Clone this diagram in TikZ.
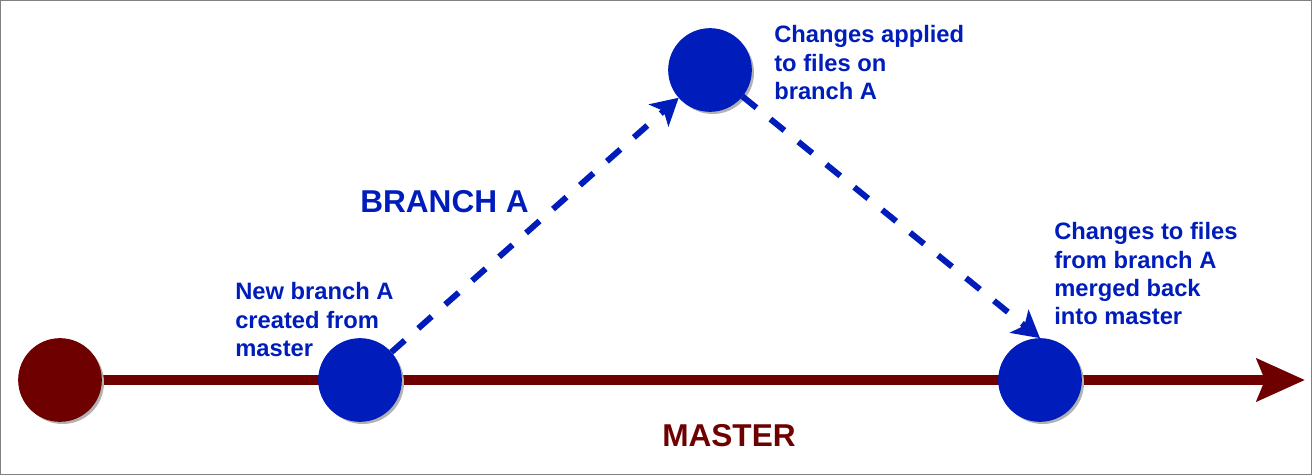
\documentclass[tikz,border=0pt]{standalone}
\usepackage{fontspec}
\setmainfont{Liberation Sans}
\usetikzlibrary{positioning, arrows.meta, shadows, backgrounds}
\definecolor{gitblue}{HTML}{001DBC}
\definecolor{gitred}{HTML}{6F0000}

\begin{document}
\begin{tikzpicture}[
    x=0.75pt, y=-0.75pt,
    every node/.style={font=\fontsize{17.8}{21.1}\selectfont\bfseries, text=gitblue},
    commit/.style={circle, draw, line width=0.75pt, minimum size=62pt, inner sep=0pt,
      drop shadow={shadow xshift=2pt, shadow yshift=-2pt, fill=black!30, opacity=1}},
    note/.style={anchor=north west, inner sep=0pt, align=left},
    title/.style={anchor=north west, inner sep=0pt, font=\fontsize{23.7}{28}\selectfont\bfseries},
    masterline/.style={gitred, line width=7.5pt, -{Stealth[length=36pt, width=31.5pt, inset=6pt]}},
    branchline/.style={gitblue, line width=4.5pt, dash pattern=on 13.5pt off 13.5pt,
      -{Stealth[length=20pt, width=22pt, inset=5pt]}},
  ]
  \useasboundingbox (0,0) rectangle (1312,475);
  \draw[gray, line width=0.75pt] (0.5,0.5) rectangle (1311.5,474.5);

  % Commits
  \node[commit, fill=gitred, draw=gitred] (start) at (60,380) {};
  \node[commit, fill=gitblue, draw=gitblue] (branch) at (360,380) {};
  \node[commit, fill=gitblue, draw=gitblue] (change) at (710,70) {};
  \node[commit, fill=gitblue, draw=gitblue] (merge) at (1040,380) {};
  \coordinate (tip) at (1305,380);

  % Master line
  \begin{scope}[on background layer]
    \draw[masterline] (start) -- (tip);
  \end{scope}

  % Branch A
  \draw[branchline] (branch) -- (change);
  \draw[branchline] (change) -- (merge.north);

  % Labels
  \node[note] (newlbl) at (235,282.5) {New branch A\\created from\\master};
  \node[note] (changedlbl) at (774,25.5) {Changes applied\\to files on\\branch A};
  \node[note] (mergedlbl) at (1054,222.5) {Changes to files\\from branch A\\merged back\\into master};
  \node[title] (branchlbl) at (360,190) {BRANCH A};
  \node[title, text=gitred] (masterlbl) at (662,424.5) {MASTER};
\end{tikzpicture}
\end{document}
